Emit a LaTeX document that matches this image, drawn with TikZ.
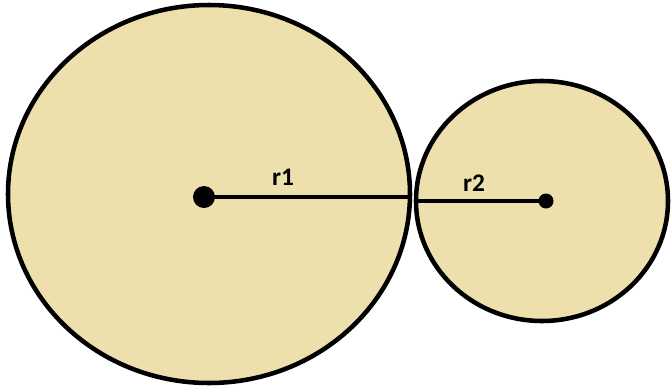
\documentclass[tikz,border=0pt]{standalone}
\usepackage{fontspec}
\setmainfont{Carlito}
\definecolor{disc}{RGB}{238,224,172}
\tikzset{
  disk/.style={draw=black, line width=3.4pt, fill=disc},
  radius line/.style={line width=3.2pt},
  rlabel/.style={font=\bfseries\fontsize{19}{19}\selectfont, inner sep=0pt}
}
\begin{document}
\begin{tikzpicture}[x=0.75pt, y=-0.75pt]
  \useasboundingbox (0,0) rectangle (672,390);
  % the two disks
  \draw[disk] (209,194) ellipse [x radius=201, y radius=189];
  \draw[disk] (542,201) ellipse [x radius=126, y radius=120];

  % centres and touching ends
  \coordinate (c1) at (204,197);
  \coordinate (c2) at (546,201);
  \coordinate (t1) at (411,197);
  \coordinate (t2) at (416,201);

  % radii
  \draw[radius line] (c1) -- (t1);
  \draw[radius line] (t2) -- (c2);
  \fill (c1) circle [radius=11];
  \fill (c2) circle [radius=7.5];

  \node[rlabel] (r1) at (283,177) {r1};
  \node[rlabel] (r2) at (474,183) {r2};
\end{tikzpicture}
\end{document}
